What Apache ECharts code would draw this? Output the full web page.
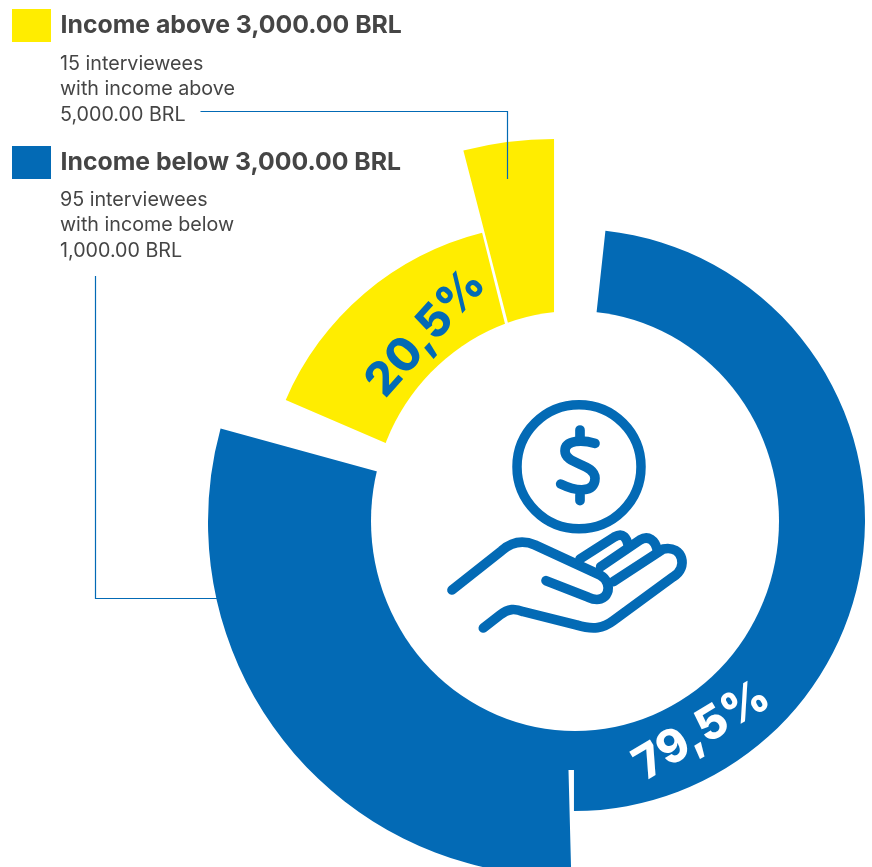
<!DOCTYPE html>
<html><head><meta charset="utf-8">
<style>html,body{margin:0;padding:0;background:#fff}#c{width:872px;height:867px}</style>
<script src="https://cdn.jsdelivr.net/npm/echarts@6/dist/echarts.min.js"></script>
</head><body><div id="c"></div>
<script>
// Shares of the full circle (%) of the four exploded ring pieces
const segmentNames = ['Below 3,000 BRL (a)','Below 3,000 BRL (b)','Above 3,000 BRL (a)','Above 3,000 BRL (b)'];
const segmentValues = [48.28, 29.67, 14.61, 4.03];
const percentLabels = ['79,5%', '20,5%'];
const yellowHeading = 'Income above 3,000.00 BRL';
const blueHeading = 'Income below 3,000.00 BRL';
const yellowLines = ['15 interviewees', 'with income above', '5,000.00 BRL'];
const blueLines = ['95 interviewees', 'with income below', '1,000.00 BRL'];

const BLUE = '#036AB5', YELLOW = '#FFED00', INK = '#454545';
const FONT = 'Inter';
const layout = [
  {color: BLUE,   center: [574, 520], outer: 291, start: 6.2},
  {color: BLUE,   center: [562, 522], outer: 354, start: 178.5},
  {color: YELLOW, center: [553, 515], outer: 291, start: 293.3},
  {color: YELLOW, center: [554, 501], outer: 362, start: 345.5}
];
const series = segmentValues.map((v, i) => ({
  type: 'pie', name: segmentNames[i], silent: true, animation: false,
  center: layout[i].center, radius: [150, layout[i].outer],
  startAngle: 90 - layout[i].start, clockwise: true,
  label: {show: false}, labelLine: {show: false},
  data: [
    {value: v, name: segmentNames[i], itemStyle: {color: layout[i].color}},
    {value: 100 - v, name: '', itemStyle: {color: 'rgba(0,0,0,0)'}}
  ]
}));

const txt = (s, x, y, size, weight) => ({
  type: 'text', x, y, z: 6,
  style: {text: s, fill: INK, font: `${weight} ${size}px ${FONT}`, textAlign: 'left', textVerticalAlign: 'middle'}
});
const pct = (s, x, y, deg, fill) => ({
  type: 'text', x, y, rotation: deg * Math.PI / 180, z: 6,
  style: {text: s, fill, font: '800 46px Inter', textAlign: 'center', textVerticalAlign: 'middle'}
});
const line = pts => ({
  type: 'polyline', z: 6, shape: {points: pts},
  style: {fill: 'none', stroke: BLUE, lineWidth: 1.2}
});

const iconPaths = [
  'M465,190 C430,180 375,178 375,213 C375,255 465,250 465,295 C465,340 410,335 362,312',
  'M420,150 L420,175 M420,345 L420,362',
  'M36,630 L185,512 C215,486 250,480 285,495 L480,585 C525,610 505,680 445,652 L318,602',
  'M130,744 L180,705 C205,685 225,685 250,695 L410,735 C460,750 490,745 520,722 L700,590 C745,565 730,495 670,507 L520,605',
  'M420,537 L523,471 C550,455 560,475 565,497',
  'M482,560 L600,480 C625,465 645,480 652,510'
];
series.push({
  type: 'custom', coordinateSystem: 'none', silent: true, z: 7, animation: false,
  data: [[0]],
  renderItem: () => ({
    type: 'group', x: 440, y: 380, scaleX: 1 / 3, scaleY: 1 / 3,
    children: iconPaths.map(d => ({
      type: 'path', shape: {pathData: d},
      style: {fill: 'none', stroke: BLUE, lineWidth: 29, lineCap: 'round', lineJoin: 'round'}
    }))
  })
});

const graphic = [
  {type: 'rect', z: 4, shape: {x: 564, y: 725, width: 11, height: 45}, style: {fill: BLUE}},
  {type: 'circle', z: 5, x: 575, y: 521, scaleX: 204, scaleY: 210, shape: {cx: 0, cy: 0, r: 1}, style: {fill: '#fff'}},
  {type: 'rect', z: 6, shape: {x: 12, y: 9, width: 39, height: 33}, style: {fill: YELLOW}},
  {type: 'rect', z: 6, shape: {x: 12, y: 146, width: 39, height: 33}, style: {fill: BLUE}},
  txt(yellowHeading, 60.5, 26, 24.8, 700),
  txt(blueHeading, 60.5, 163, 24.8, 700),
  ...yellowLines.map((s, i) => txt(s, 60, 64 + i * 25.5, 19.7, 400)),
  ...blueLines.map((s, i) => txt(s, 60, 200 + i * 25.5, 19.7, 400)),
  line([[200.5, 111.5], [507.5, 111.5], [507.5, 179]]),
  line([[95.5, 276], [95.5, 598.5], [217, 598.5]]),
  pct(percentLabels[0], 702, 731, 31, '#fff'),
  pct(percentLabels[1], 426, 333, 48, BLUE),
  {type: 'circle', z: 6, shape: {cx: 579, cy: 466.7, r: 62}, style: {fill: 'none', stroke: BLUE, lineWidth: 9.5}}
];

const chart = echarts.init(document.getElementById('c'), null, {renderer: 'canvas'});
chart.setOption({animation: false, backgroundColor: '#fff', series, graphic});
</script></body></html>
